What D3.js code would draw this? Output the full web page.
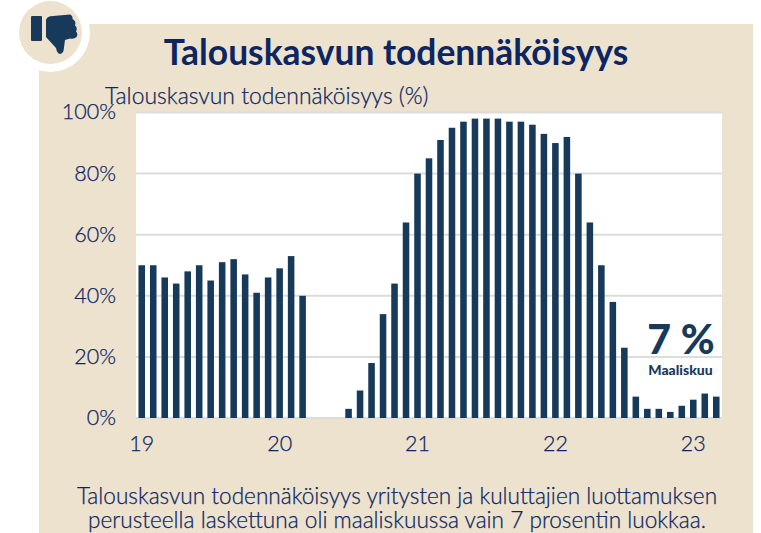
<!DOCTYPE html>
<html>
<head>
<meta charset="utf-8">
<script src="https://cdn.jsdelivr.net/npm/d3@7"></script>
<style>
  html, body { margin: 0; padding: 0; background: #fff; }
  svg { display: block; }
  text { font-family: Lato, sans-serif; fill: #0c2662; }
  .thin { stroke: #0c2662; stroke-width: 0.25px; }
</style>
</head>
<body>
<div id="main"></div>
<script>
// monthly values, jan 2019 - mar 2023. null = no bar
var months = d3.range(51);
var values = [50, 50, 46, 44, 48, 50, 45, 51, 52, 47, 41, 46,
    49, 53, 40, null, null, null, 3, 9, 18, 34, 44, 64,
    80, 85, 91, 95, 97, 98, 98, 98, 97, 97, 96, 93,
    90, 92, 80, 64, 50, 38, 23, 7, 3, 3, 2, 4,
    6, 8, 7];
var yTicks = [0, 20, 40, 60, 80, 100];
var xTicks = [0, 12, 24, 36, 48];
var xTickLabels = ["19", "20", "21", "22", "23"];

var title = "Talouskasvun todennäköisyys";
var yTitle = "Talouskasvun todennäköisyys (%)";
var caption = ["Talouskasvun todennäköisyys yritysten ja kuluttajien luottamuksen",
    "perusteella laskettuna oli maaliskuussa vain 7 prosentin luokkaa."];

var beige = "#ede2ce";
var barColor = "#183a5a";

var svg = d3.select("#main").append("svg")
    .attr("width", 761)
    .attr("height", 533);

var plot = { left: 136, right: 722, top: 112.5, bottom: 418 };

var x = d3.scaleBand().domain(months).range([plot.left, plot.right]).paddingInner(0.43).paddingOuter(0.215);
var y = d3.scaleLinear().domain([0, 100]).range([plot.bottom, plot.top]);

// panel
svg.append("rect").attr("x", 39).attr("y", 24).attr("width", 714).attr("height", 509).attr("fill", beige);
svg.append("rect").attr("x", plot.left).attr("y", plot.top).attr("width", plot.right - plot.left)
    .attr("height", plot.bottom - plot.top).attr("fill", "#fff");

// badge with thumb
svg.append("circle").attr("cx", 50.5).attr("cy", 32.5).attr("r", 39.5).attr("fill", "#fff");
svg.append("circle").attr("cx", 50.5).attr("cy", 32.5).attr("r", 31.5).attr("fill", beige);
svg.append("rect").attr("x", 31).attr("y", 16).attr("width", 11).attr("height", 25).attr("rx", 1).attr("fill", barColor);
svg.append("path")
    .attr("fill", barColor)
    .attr("d", "M46 20 Q47 16 53 16 L70 14.5 Q73 15.5 72.5 19 Q76.5 21 75 25.5 Q78 28 76 31.5 Q78.5 34 76.5 37 Q74 39.5 70 38.5 L65 40 L63.5 51 Q62 55 58.5 53.5 Q56.5 52 56 48 L46 37 Z");

// titles
svg.append("text").attr("x", 396).attr("y", 65).attr("text-anchor", "middle")
    .attr("font-size", 35.4).attr("font-weight", 700).text(title);
svg.append("text").attr("class", "thin").attr("x", 105).attr("y", 104).attr("font-size", 22.9).attr("font-weight", 300).text(yTitle);

// grid + axes
var yAxis = d3.axisLeft(y).tickValues(yTicks).tickFormat(function(d) { return d + "%"; }).tickSize(0).tickPadding(20);
var gy = svg.append("g").attr("transform", "translate(" + plot.left + ",0)").call(yAxis);
gy.select(".domain").remove();
gy.selectAll("text").attr("class", "thin").attr("font-size", 21.5).attr("font-weight", 300).attr("dy", "0.3em").style("font-family", "Lato, sans-serif");

svg.append("g").selectAll("line")
    .data(yTicks)
    .enter()
    .append("line")
    .attr("x1", plot.left)
    .attr("x2", plot.right)
    .attr("y1", function(d) { return y(d); })
    .attr("y2", function(d) { return y(d); })
    .attr("stroke", "#dcdcdc")
    .attr("stroke-width", 2);

// bars
svg.append("g").selectAll("rect")
    .data(months.filter(function(m) { return values[m] !== null; }))
    .enter()
    .append("rect")
    .attr("x", function(m) { return x(m); })
    .attr("width", x.bandwidth())
    .attr("y", function(m) { return y(values[m]); })
    .attr("height", function(m) { return y(0) - y(values[m]); })
    .attr("fill", barColor);

var xAxis = d3.axisBottom(x).tickValues(xTicks).tickFormat(function(d, i) { return xTickLabels[i]; }).tickSize(0).tickPadding(18);
var gx = svg.append("g").attr("transform", "translate(0," + plot.bottom + ")").call(xAxis);
gx.select(".domain").remove();
gx.selectAll("text").attr("class", "thin").attr("font-size", 21.5).attr("font-weight", 300).style("font-family", "Lato, sans-serif");

// callout
svg.append("text").attr("x", 681).attr("y", 354).attr("text-anchor", "middle")
    .attr("font-size", 41).attr("font-weight", 900).style("fill", barColor).text("7 %");
svg.append("text").attr("x", 680.5).attr("y", 375).attr("text-anchor", "middle")
    .attr("font-size", 14).attr("font-weight", 900).style("fill", barColor).text("Maaliskuu");

// bottom text
svg.append("g").selectAll("text")
    .data(caption)
    .enter()
    .append("text")
    .attr("class", "thin")
    .attr("x", 397)
    .attr("y", function(d, i) { return 504 + i * 24; })
    .attr("text-anchor", "middle")
    .attr("font-size", 22.6)
    .attr("font-weight", 300)
    .text(function(d) { return d; });
</script>
</body>
</html>
